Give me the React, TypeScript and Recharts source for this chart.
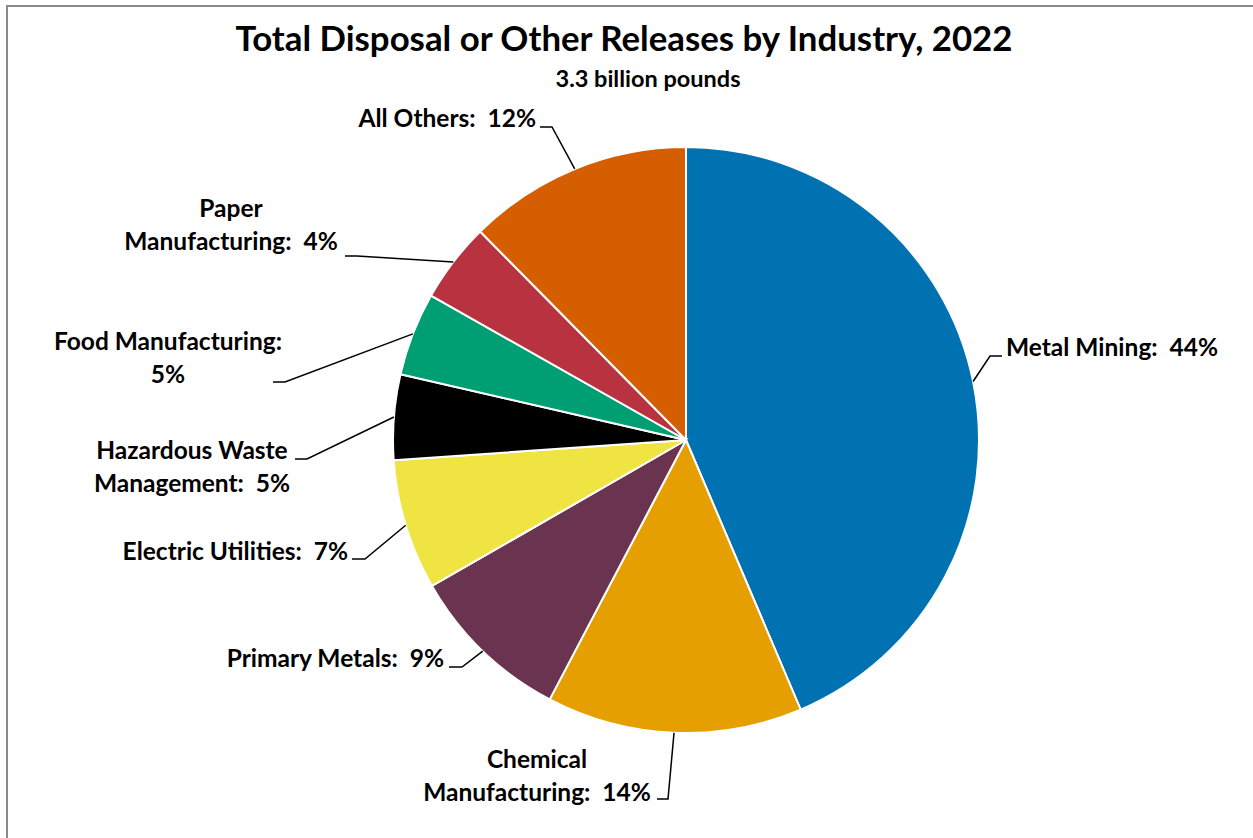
import React from 'react';
import { PieChart, Pie, Cell } from 'recharts';

const categories = [
  'Metal Mining',
  'Chemical Manufacturing',
  'Primary Metals',
  'Electric Utilities',
  'Hazardous Waste Management',
  'Food Manufacturing',
  'Paper Manufacturing',
  'All Others',
];
const shares = [43.6, 14.1, 9.0, 7.2, 4.7, 4.6, 4.4, 12.4];
const sliceColors = ['#0072B2', '#E69F00', '#6A3350', '#F0E442', '#000000', '#009E73', '#B8333F', '#D55E00'];
const titleText = 'Total Disposal or Other Releases by Industry, 2022';
const subtitleText = '3.3 billion pounds';

const data = categories.map((name, i) => ({ name, value: shares[i] }));

// label layout relative to the pie centre: elbow point, line end, text anchor, words on first line
type Layout = { elbow: [number, number]; end: [number, number]; text: [number, number]; anchor: 'start' | 'middle' | 'end'; firstWords?: number };
const labelLayout: Layout[] = [
  { elbow: [304, -84], end: [316, -84], text: [320, -84], anchor: 'start' },
  { elbow: [-18, 359], end: [-29, 359], text: [-149, 328], anchor: 'middle', firstWords: 1 },
  { elbow: [-224, 227], end: [-237, 227], text: [-242, 227], anchor: 'end' },
  { elbow: [-321, 119], end: [-334, 119], text: [-338, 120], anchor: 'end' },
  { elbow: [-379, 19], end: [-391, 19], text: [-494, 19], anchor: 'middle', firstWords: 2 },
  { elbow: [-401, -58], end: [-413, -58], text: [-518, -90], anchor: 'middle', firstWords: 2 },
  { elbow: [-329, -184], end: [-341, -184], text: [-455, -223], anchor: 'middle', firstWords: 1 },
  { elbow: [-134, -313], end: [-146, -313], text: [-150, -313], anchor: 'end' },
];

const FONT = 'Lato, "Open Sans", sans-serif';
const LABEL_SIZE = 24.5;
const LINE_GAP = 33;

const renderLabel = (props: any) => {
  const { cx, cy, midAngle, outerRadius, index, name, percent } = props;
  const lay = labelLayout[index];
  const RAD = Math.PI / 180;
  const sx = cx + Math.cos(-midAngle * RAD) * outerRadius;
  const sy = cy + Math.sin(-midAngle * RAD) * outerRadius;
  const pct = Math.round(percent * 100);
  const words = String(name).split(' ');
  let lines: string[];
  if (lay.firstWords === undefined) {
    lines = [`${name}:  ${pct}%`];
  } else if (lay.firstWords < words.length) {
    lines = [words.slice(0, lay.firstWords).join(' '), `${words.slice(lay.firstWords).join(' ')}:  ${pct}%`];
  } else {
    lines = [`${name}:`, `${pct}%`];
  }
  return (
    <g key={`lbl-${index}`}>
      <polyline
        points={`${sx},${sy} ${cx + lay.elbow[0]},${cy + lay.elbow[1]} ${cx + lay.end[0]},${cy + lay.end[1]}`}
        fill="none"
        stroke="#000"
        strokeWidth={1.5}
      />
      <text
        x={cx + lay.text[0]}
        y={cy + lay.text[1]}
        textAnchor={lay.anchor}
        fontFamily={FONT}
        fontWeight={700}
        fontSize={LABEL_SIZE}
        fill="#000"
        style={{ whiteSpace: 'pre' }}
      >
        {lines.map((ln, i) => (
          <tspan key={i} x={cx + lay.text[0]} dy={i === 0 ? 0 : LINE_GAP}>
            {ln}
          </tspan>
        ))}
      </text>
    </g>
  );
};

export default function App() {
  return (
    <div style={{ position: 'absolute', left: 0, top: 0, width: 1253, height: 838, overflow: 'hidden', background: '#fff' }}>
      <div
        style={{
          position: 'absolute',
          left: 6,
          top: 5,
          width: 1400,
          height: 1000,
          borderLeft: '2px solid #8a8a8a',
          borderTop: '2px solid #8a8a8a',
        }}
      />
      <div style={{ position: 'absolute', left: 0, top: 0 }}>
        <PieChart width={1253} height={838} margin={{ top: 0, right: 0, bottom: 0, left: 0 }}>
          <Pie
            data={data}
            dataKey="value"
            nameKey="name"
            cx={686}
            cy={440}
            outerRadius={293}
            startAngle={90}
            endAngle={-270}
            stroke="#ffffff"
            strokeWidth={2}
            label={renderLabel}
            labelLine={false}
            isAnimationActive={false}
          >
            {data.map((d, i) => (
              <Cell key={d.name} fill={sliceColors[i]} />
            ))}
          </Pie>
        </PieChart>
      </div>
      <svg width={1253} height={838} style={{ position: 'absolute', left: 0, top: 0, pointerEvents: 'none' }}>
        <text x={624} y={51} textAnchor="middle" fontFamily={FONT} fontWeight={700} fontSize={34.8} fill="#000">
          {titleText}
        </text>
        <text x={648} y={87} textAnchor="middle" fontFamily={FONT} fontWeight={700} fontSize={23.5} fill="#000">
          {subtitleText}
        </text>
      </svg>
    </div>
  );
}
